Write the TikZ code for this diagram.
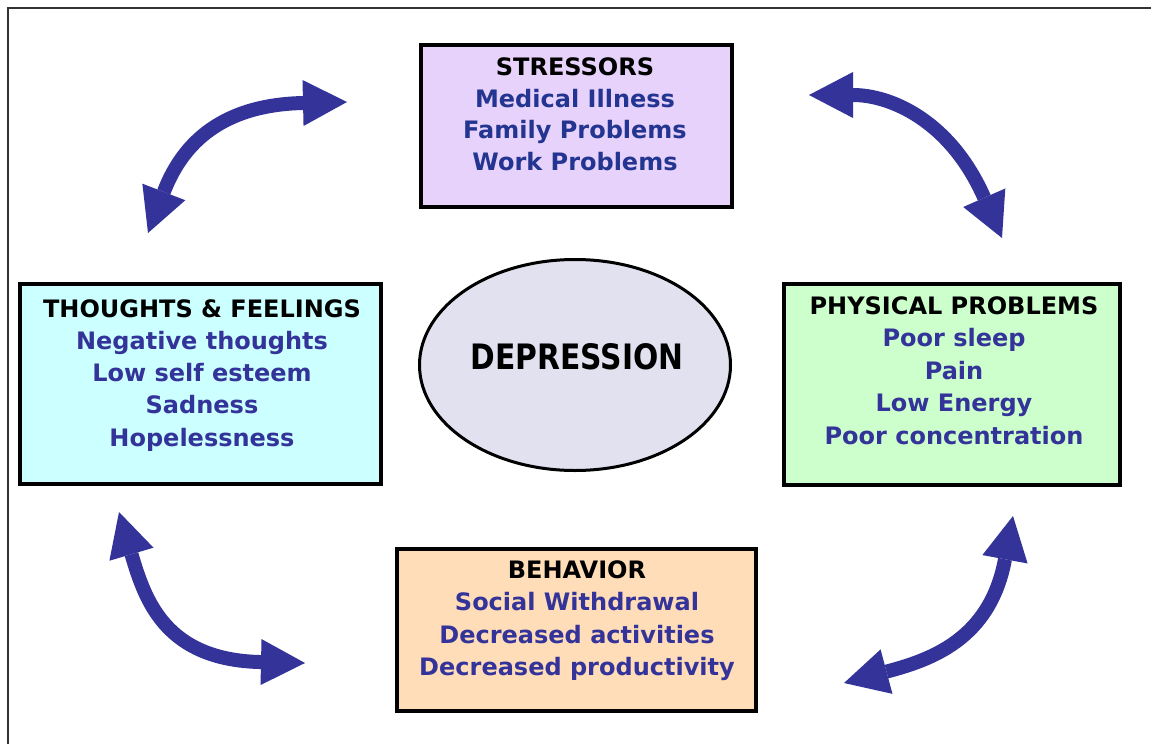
\documentclass[tikz,border=0pt]{standalone}
\usepackage{fontspec}
\setmainfont{DejaVu Sans}
\usetikzlibrary{arrows.meta,shapes.geometric}
\definecolor{arrowblue}{HTML}{333399}
\definecolor{itemblue}{HTML}{333399}
\definecolor{stressblue}{HTML}{233590}
\definecolor{stressfill}{HTML}{E6D2FA}
\definecolor{thoughtfill}{HTML}{CCFFFF}
\definecolor{physfill}{HTML}{CCFFCC}
\definecolor{behavfill}{HTML}{FFDDB8}
\definecolor{depfill}{HTML}{E1E1F0}
\definecolor{framegray}{HTML}{333333}
\tikzset{
  box/.style={draw=black, line width=4pt, rectangle, inner sep=0pt},
  depell/.style={draw=black, line width=3pt, ellipse, inner sep=0pt, fill=depfill},
  boxtext/.style={anchor=north, inner sep=0pt, align=center, text=itemblue, font=\bfseries\fontsize{24}{32.4}\selectfont},
  dblarrow/.style={draw=arrowblue, line width=14pt,
    {Triangle[length=44pt,width=46pt,line width=0pt]}-{Triangle[length=44pt,width=46pt,line width=0pt]}}
}
\newcommand{\hd}[1]{{\color{black}\bfseries\fontsize{24}{32.4}\selectfont #1}}
\begin{document}
\begin{tikzpicture}[x=1pt,y=-1pt]
\useasboundingbox (0,0) rectangle (1151,744);
\clip (0,0) rectangle (1151,744);
\fill[white] (0,0) rectangle (1151,744);
% outer frame (continues past the right and bottom edges)
\draw[framegray, line width=2pt] (8,800) -- (8,7.5) -- (1200,7.5);

% boxes
\node[box, fill=stressfill, minimum width=311pt, minimum height=162pt] (stress) at (576,126) {};
\node[box, fill=thoughtfill, minimum width=361pt, minimum height=200pt] (thought) at (200.5,384) {};
\node[box, fill=physfill, minimum width=336pt, minimum height=201pt] (phys) at (952,384.5) {};
\node[box, fill=behavfill, minimum width=359pt, minimum height=162pt] (behav) at (576.5,630) {};
\node[depell, minimum width=311pt, minimum height=211pt] (dep) at (575,365) {};

% texts
\node[boxtext, text=stressblue, font=\bfseries\fontsize{24}{31.5}\selectfont] (stressT) at (575,57.5)
  {\hd{STRESSORS}\\Medical Illness\\Family Problems\\Work Problems};
\node[boxtext, font=\bfseries\fontsize{24}{32.3}\selectfont] (thoughtT) at (202,299)
  {\hd{THOUGHTS \& FEELINGS}\\Negative thoughts\\Low self esteem\\Sadness\\Hopelessness};
\node[boxtext, font=\bfseries\fontsize{24}{32.6}\selectfont] (physT) at (954,296)
  {\hd{PHYSICAL PROBLEMS}\\Poor sleep\\Pain\\Low Energy\\Poor concentration};
\node[boxtext, font=\bfseries\fontsize{24}{32.3}\selectfont] (behavT) at (577,560.5)
  {\hd{BEHAVIOR}\\Social Withdrawal\\Decreased activities\\Decreased productivity};
\node[anchor=base, inner sep=0pt, font=\bfseries\fontsize{35}{40}\selectfont] (depT) at (577,369.5)
  {\scalebox{0.85}[1]{DEPRESSION}};

% arrow end points
\coordinate (a1s) at (148,233); \coordinate (a1e) at (347,102);
\coordinate (a2s) at (809,95);  \coordinate (a2e) at (1002,238);
\coordinate (a3s) at (119,512); \coordinate (a3e) at (305,663);
\coordinate (a4s) at (844,683); \coordinate (a4e) at (1013,516);

\draw[dblarrow] (a1s) .. controls (180,150) and (215,105) .. (a1e);
\draw[dblarrow] (a2s) .. controls (890,95) and (950,120) .. (a2e);
\draw[dblarrow] (a3s) .. controls (145,600) and (165,660) .. (a3e);
\draw[dblarrow] (a4s) .. controls (930,660) and (990,640) .. (a4e);
\end{tikzpicture}
\end{document}
